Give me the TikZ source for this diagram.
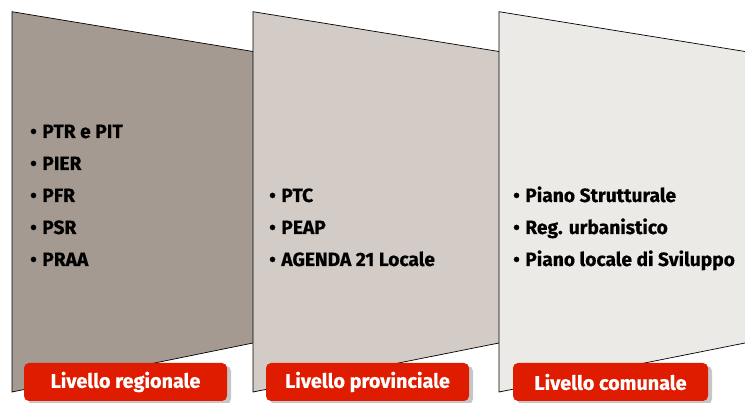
\documentclass[tikz,border=0pt]{standalone}
\usepackage{fontspec}
\setmainfont{Fira Sans}[BoldFeatures={FakeBold=0.5}]
\usepackage{tikz}
\usetikzlibrary{shadows}
\definecolor{regcol}{RGB}{164,154,145}
\definecolor{provcol}{RGB}{211,203,198}
\definecolor{comcol}{RGB}{236,234,230}
\definecolor{rossolab}{RGB}{224,28,0}
\newcommand{\voce}[1]{\textbullet\hspace{5.5pt}#1}

\begin{document}
\begin{tikzpicture}[x=1pt,y=-1pt]
  \tikzset{
    pannello/.style={draw=black,line width=0.7pt},
    elenco/.style={anchor=base west,inner sep=0pt,font=\bfseries\fontsize{19.2}{22}\selectfont},
    livello/.style={fill=rossolab,rounded corners=5pt,text=white,inner sep=0pt,
      minimum height=38pt,font=\bfseries\fontsize{19.8}{22}\selectfont,
      drop shadow={shadow xshift=4pt,shadow yshift=-3pt,opacity=0.45}}
  }
  \useasboundingbox (0,0) rectangle (745,403);
  % pannelli
  \fill[regcol] (12,11.7) -- (253,51.5) -- (253,343) -- (12,392) -- cycle;
  \draw[pannello] (253,51.5) -- (12,11.7) -- (12,392) -- (253,343);
  \fill[provcol] (253,11.7) -- (499,51.5) -- (499,343) -- (253,392) -- cycle;
  \draw[pannello] (499,51.5) -- (253,11.7) -- (253,392) -- (499,343);
  \fill[comcol] (499,11.7) -- (745,51.5) -- (745,343) -- (499,392) -- cycle;
  \draw[pannello] (745,51.5) -- (499,11.7) -- (499,392) -- (745,343);
  % livello regionale
  \node[elenco] (r1) at (30,138) {\voce{PTR e PIT}};
  \node[elenco] (r2) at (30,170) {\voce{PIER}};
  \node[elenco] (r3) at (30,202) {\voce{PFR}};
  \node[elenco] (r4) at (30,234) {\voce{PSR}};
  \node[elenco] (r5) at (30,266) {\voce{PRAA}};
  % livello provinciale
  \node[elenco] (p1) at (269,202) {\voce{PTC}};
  \node[elenco] (p2) at (269,234) {\voce{PEAP}};
  \node[elenco] (p3) at (269,266) {\voce{AGENDA 21 Locale}};
  % livello comunale
  \node[elenco] (c1) at (513,202) {\voce{Piano Strutturale}};
  \node[elenco] (c2) at (513,234) {\voce{Reg. urbanistico}};
  \node[elenco] (c3) at (513,266) {\voce{Piano locale di Sviluppo}};
  % etichette
  \node[livello,minimum width=203pt] (reg) at (125.5,382) {Livello regionale};
  \node[livello,minimum width=203pt] (prov) at (367.5,382) {Livello provinciale};
  \node[livello,minimum width=195pt] (com) at (610.5,382) {Livello comunale};
\end{tikzpicture}
\end{document}
